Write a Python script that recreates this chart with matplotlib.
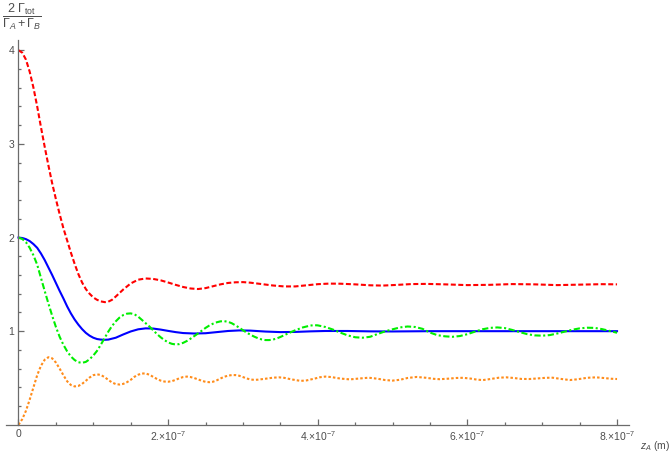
"""Normalised total decay rate 2*Gamma_tot / (Gamma_A + Gamma_B) versus z_A."""

import matplotlib
matplotlib.use("Agg")
import matplotlib.pyplot as plt
import numpy as np
from matplotlib.ticker import FixedLocator, FuncFormatter

plt.rcParams["font.family"] = ["Liberation Sans", "DejaVu Sans"]
plt.rcParams["mathtext.fontset"] = "custom"
plt.rcParams["mathtext.rm"] = "Liberation Sans"
plt.rcParams["mathtext.it"] = "Liberation Sans:italic"
plt.rcParams["mathtext.bf"] = "Liberation Sans:bold"

UNIT = 1e-7  # z values below are in units of 1e-7 m

# red dashed
z_red = [0, 0.05, 0.1, 0.15, 0.2, 0.25, 0.3, 0.35, 0.4, 0.45, 0.5, 0.55, 0.6, 0.65,
         0.7, 0.75, 0.8, 0.85, 0.9, 0.95, 1.0, 1.05, 1.1, 1.155, 1.2, 1.25, 1.3, 1.4,
         1.5, 1.6, 1.7, 1.8, 1.9, 2.0, 2.1, 2.2, 2.3, 2.4, 2.5, 2.6, 2.7, 2.8, 2.9,
         3.0, 3.1, 3.25, 3.4, 3.55, 3.7, 3.85, 4.0, 4.15, 4.3, 4.5, 4.7, 4.87, 5.05,
         5.25, 5.45, 5.7, 6.0, 6.3, 6.6, 6.9, 7.2, 7.5, 7.8, 8.0]
g_red = [4.0, 3.975, 3.90, 3.77, 3.60, 3.40, 3.18, 2.97, 2.77, 2.58, 2.41, 2.25, 2.10, 1.97,
         1.84, 1.72, 1.61, 1.52, 1.45, 1.40, 1.36, 1.335, 1.318, 1.31, 1.315, 1.335, 1.37, 1.445,
         1.51, 1.55, 1.563, 1.558, 1.543, 1.52, 1.495, 1.472, 1.456, 1.45, 1.46, 1.48, 1.50, 1.515, 1.522,
         1.524, 1.518, 1.503, 1.488, 1.478, 1.478, 1.49, 1.502, 1.508, 1.507, 1.5, 1.49, 1.487, 1.494,
         1.503, 1.505, 1.5, 1.492, 1.495, 1.503, 1.5, 1.492, 1.497, 1.502, 1.5]

# blue solid
z_blue = [0, 0.05, 0.1, 0.15, 0.2, 0.25, 0.3, 0.35, 0.4, 0.45, 0.5, 0.55, 0.6, 0.65,
          0.7, 0.75, 0.8, 0.85, 0.9, 0.95, 1.0, 1.05, 1.1, 1.155, 1.2, 1.3, 1.4, 1.5,
          1.6, 1.7, 1.8, 1.9, 2.0, 2.1, 2.2, 2.35, 2.5, 2.65, 2.8, 2.95, 3.1, 3.3,
          3.5, 3.7, 3.9, 4.1, 4.4, 4.7, 5.0, 5.5, 6.0, 7.0, 8.0]
g_blue = [2.0, 1.995, 1.983, 1.962, 1.93, 1.89, 1.83, 1.76, 1.68, 1.60, 1.515, 1.43, 1.35, 1.265,
          1.19, 1.125, 1.07, 1.022, 0.982, 0.952, 0.93, 0.916, 0.91, 0.908, 0.91, 0.93, 0.965, 0.997,
          1.02, 1.03, 1.028, 1.017, 1.003, 0.99, 0.98, 0.975, 0.978, 0.99, 1.002, 1.008, 1.006, 0.996,
          0.99, 0.992, 0.998, 1.002, 1.002, 0.998, 0.997, 1.0, 1.0, 1.0, 1.0]

# green dash-dot
z_green = [0, 0.05, 0.1, 0.15, 0.2, 0.25, 0.3, 0.35, 0.4, 0.45, 0.5, 0.55, 0.6, 0.65,
           0.7, 0.75, 0.8, 0.85, 0.9, 0.95, 1.0, 1.05, 1.1, 1.15, 1.2, 1.25, 1.3, 1.35,
           1.4, 1.45, 1.5, 1.55, 1.6, 1.65, 1.7, 1.75, 1.8, 1.85, 1.9, 1.95, 2.0, 2.05,
           2.1, 2.15, 2.2, 2.25, 2.3, 2.35, 2.4, 2.45, 2.5, 2.55, 2.6, 2.65, 2.7, 2.75,
           2.8, 2.85, 2.9, 2.95, 3.0, 3.05, 3.1, 3.15, 3.2, 3.25, 3.3, 3.35, 3.4, 3.45,
           3.5, 3.6, 3.7, 3.8, 3.9, 3.95, 4.0, 4.1, 4.2, 4.3, 4.4, 4.5, 4.6, 4.7, 4.8,
           4.9, 5.0, 5.1, 5.2, 5.3, 5.4, 5.5, 5.6, 5.7, 5.8, 5.9, 6.0, 6.1, 6.2, 6.3,
           6.4, 6.5, 6.6, 6.7, 6.8, 6.9, 7.0, 7.1, 7.2, 7.3, 7.4, 7.5, 7.6, 7.7, 7.8,
           7.9, 8.0]
g_green = [2.0, 1.985, 1.95, 1.89, 1.81, 1.71, 1.57, 1.43, 1.295, 1.165, 1.045, 0.94, 0.855, 0.785,
           0.73, 0.692, 0.668, 0.662, 0.672, 0.70, 0.74, 0.79, 0.855, 0.925, 0.995, 1.055, 1.105, 1.145,
           1.172, 1.187, 1.19, 1.18, 1.155, 1.12, 1.085, 1.05, 1.01, 0.97, 0.935, 0.905, 0.88, 0.865,
           0.858, 0.862, 0.875, 0.895, 0.92, 0.948, 0.976, 1.005, 1.035, 1.06, 1.08, 1.095, 1.105, 1.107,
           1.10, 1.085, 1.062, 1.038, 1.01, 0.985, 0.962, 0.942, 0.925, 0.912, 0.905, 0.905, 0.91, 0.922,
           0.938, 0.975, 1.01, 1.04, 1.06, 1.064, 1.062, 1.045, 1.018, 0.985, 0.955, 0.935, 0.93, 0.94, 0.97,
           0.998, 1.02, 1.04, 1.05, 1.045, 1.025, 0.985, 0.957, 0.945, 0.94, 0.948, 0.968, 0.995, 1.02, 1.035,
           1.04, 1.033, 1.013, 0.99, 0.968, 0.955, 0.952, 0.958, 0.975, 0.995, 1.015, 1.03, 1.037, 1.035, 1.022,
           1.003, 0.983]

# orange dotted
z_orange = [0, 0.05, 0.1, 0.15, 0.2, 0.25, 0.3, 0.35, 0.4, 0.45, 0.5, 0.55, 0.6, 0.65,
            0.7, 0.75, 0.8, 0.85, 0.9, 0.95, 1.0, 1.05, 1.1, 1.15, 1.2, 1.25, 1.3, 1.35,
            1.4, 1.45, 1.5, 1.55, 1.6, 1.65, 1.7, 1.75, 1.8, 1.85, 1.9, 1.95, 2.0, 2.05,
            2.1, 2.15, 2.2, 2.25, 2.3, 2.35, 2.4, 2.45, 2.5, 2.55, 2.6, 2.65, 2.7, 2.75,
            2.8, 2.85, 2.9, 2.95, 3.0, 3.05, 3.1, 3.15, 3.2, 3.3, 3.4, 3.48, 3.55, 3.65,
            3.77, 3.85, 3.95, 4.03, 4.1, 4.18, 4.3, 4.43, 4.55, 4.68, 4.8, 4.9, 5.0, 5.1,
            5.2, 5.32, 5.45, 5.55, 5.63, 5.75, 5.85, 5.94, 6.05, 6.13, 6.21, 6.3, 6.42,
            6.52, 6.62, 6.72, 6.83, 6.95, 7.05, 7.14, 7.25, 7.37, 7.47, 7.6, 7.72, 7.82,
            7.92, 8.0]
g_orange = [0.0, 0.06, 0.15, 0.27, 0.40, 0.53, 0.63, 0.695, 0.722, 0.71, 0.665, 0.60, 0.53, 0.465,
            0.425, 0.41, 0.415, 0.437, 0.47, 0.505, 0.53, 0.539, 0.532, 0.51, 0.48, 0.452, 0.435, 0.43,
            0.437, 0.455, 0.48, 0.513, 0.535, 0.548, 0.548, 0.535, 0.512, 0.49, 0.472, 0.462, 0.46, 0.466,
            0.48, 0.497, 0.51, 0.515, 0.51, 0.499, 0.485, 0.47, 0.459, 0.455, 0.46, 0.475, 0.495, 0.513,
            0.525, 0.531, 0.531, 0.524, 0.51, 0.495, 0.484, 0.48, 0.482, 0.492, 0.503, 0.507, 0.502, 0.485,
            0.469, 0.474, 0.492, 0.508, 0.515, 0.51, 0.494, 0.485, 0.494, 0.503, 0.492, 0.478, 0.472, 0.481,
            0.50, 0.511, 0.502, 0.491, 0.487, 0.493, 0.50, 0.502, 0.493, 0.482, 0.478, 0.488, 0.503,
            0.507, 0.50, 0.49, 0.489, 0.496, 0.502, 0.503, 0.49, 0.478, 0.486, 0.502, 0.507, 0.50,
            0.492, 0.489]

X_MAJOR = [0, 2, 4, 6, 8]
Y_MAJOR = [1, 2, 3, 4]

AXIS_GREY = "#6b6b6b"
LABEL_GREY = "#4d4d4d"

W, H = 671, 455
fig = plt.figure(figsize=(W / 100, H / 100), dpi=100)
left, right, top, bottom = 6, 629, 40, 424.8
ax = fig.add_axes([left / W, (H - bottom) / H, (right - left) / W, (bottom - top) / H])

lw = 1.5
ax.plot(np.array(z_red) * UNIT, g_red, color="#ff0000", lw=lw, ls=(0, (2.4, 1.2)))
ax.plot(np.array(z_blue) * UNIT, g_blue, color="#0000ff", lw=lw)
ax.plot(np.array(z_green) * UNIT, g_green, color="#00ee00", lw=lw,
        ls=(0, (3.0, 1.2, 1.0, 1.2)))
ax.plot(np.array(z_orange) * UNIT, g_orange, color="#ff8c1a", lw=lw, ls=(0, (1.2, 1.0)))

ax.set_xlim(-0.167 * UNIT, 8.16 * UNIT)
ax.set_ylim(0, 4.11)

for side in ("top", "right"):
    ax.spines[side].set_visible(False)
ax.spines["left"].set_position(("data", 0))
for side in ("left", "bottom"):
    ax.spines[side].set_color(AXIS_GREY)
    ax.spines[side].set_linewidth(0.9)

ax.xaxis.set_major_locator(FixedLocator([v * UNIT for v in X_MAJOR]))
ax.xaxis.set_minor_locator(FixedLocator([v * 0.5 * UNIT for v in range(1, 17) if v % 4]))
ax.yaxis.set_major_locator(FixedLocator(Y_MAJOR))
ax.yaxis.set_minor_locator(FixedLocator([v * 0.2 for v in range(1, 21) if v % 5]))


def xfmt(v, _):
    m = round(v / UNIT)
    return "0" if m == 0 else f"{m}.\u00d710$^{{-7}}$"


ax.xaxis.set_major_formatter(FuncFormatter(xfmt))
ax.tick_params(which="both", direction="in", color=AXIS_GREY, width=0.9,
               labelcolor=LABEL_GREY, labelsize=7.5)
ax.tick_params(which="major", length=4.5)
ax.tick_params(which="minor", length=2.5)
ax.tick_params(axis="x", pad=3)
ax.tick_params(axis="y", pad=3)

fig.text(2 / W, 1 - 17 / H,
         r"$\dfrac{2\ \Gamma_{\mathrm{tot}}}{\Gamma_{A}+\Gamma_{B}}$",
         ha="left", va="center", fontsize=9, color=LABEL_GREY)
fig.text(655 / W, 1 - 446 / H, r"$z_{A}$ (m)", ha="center", va="center",
         fontsize=7.5, color=LABEL_GREY)

fig.savefig("out.png", dpi=100)
